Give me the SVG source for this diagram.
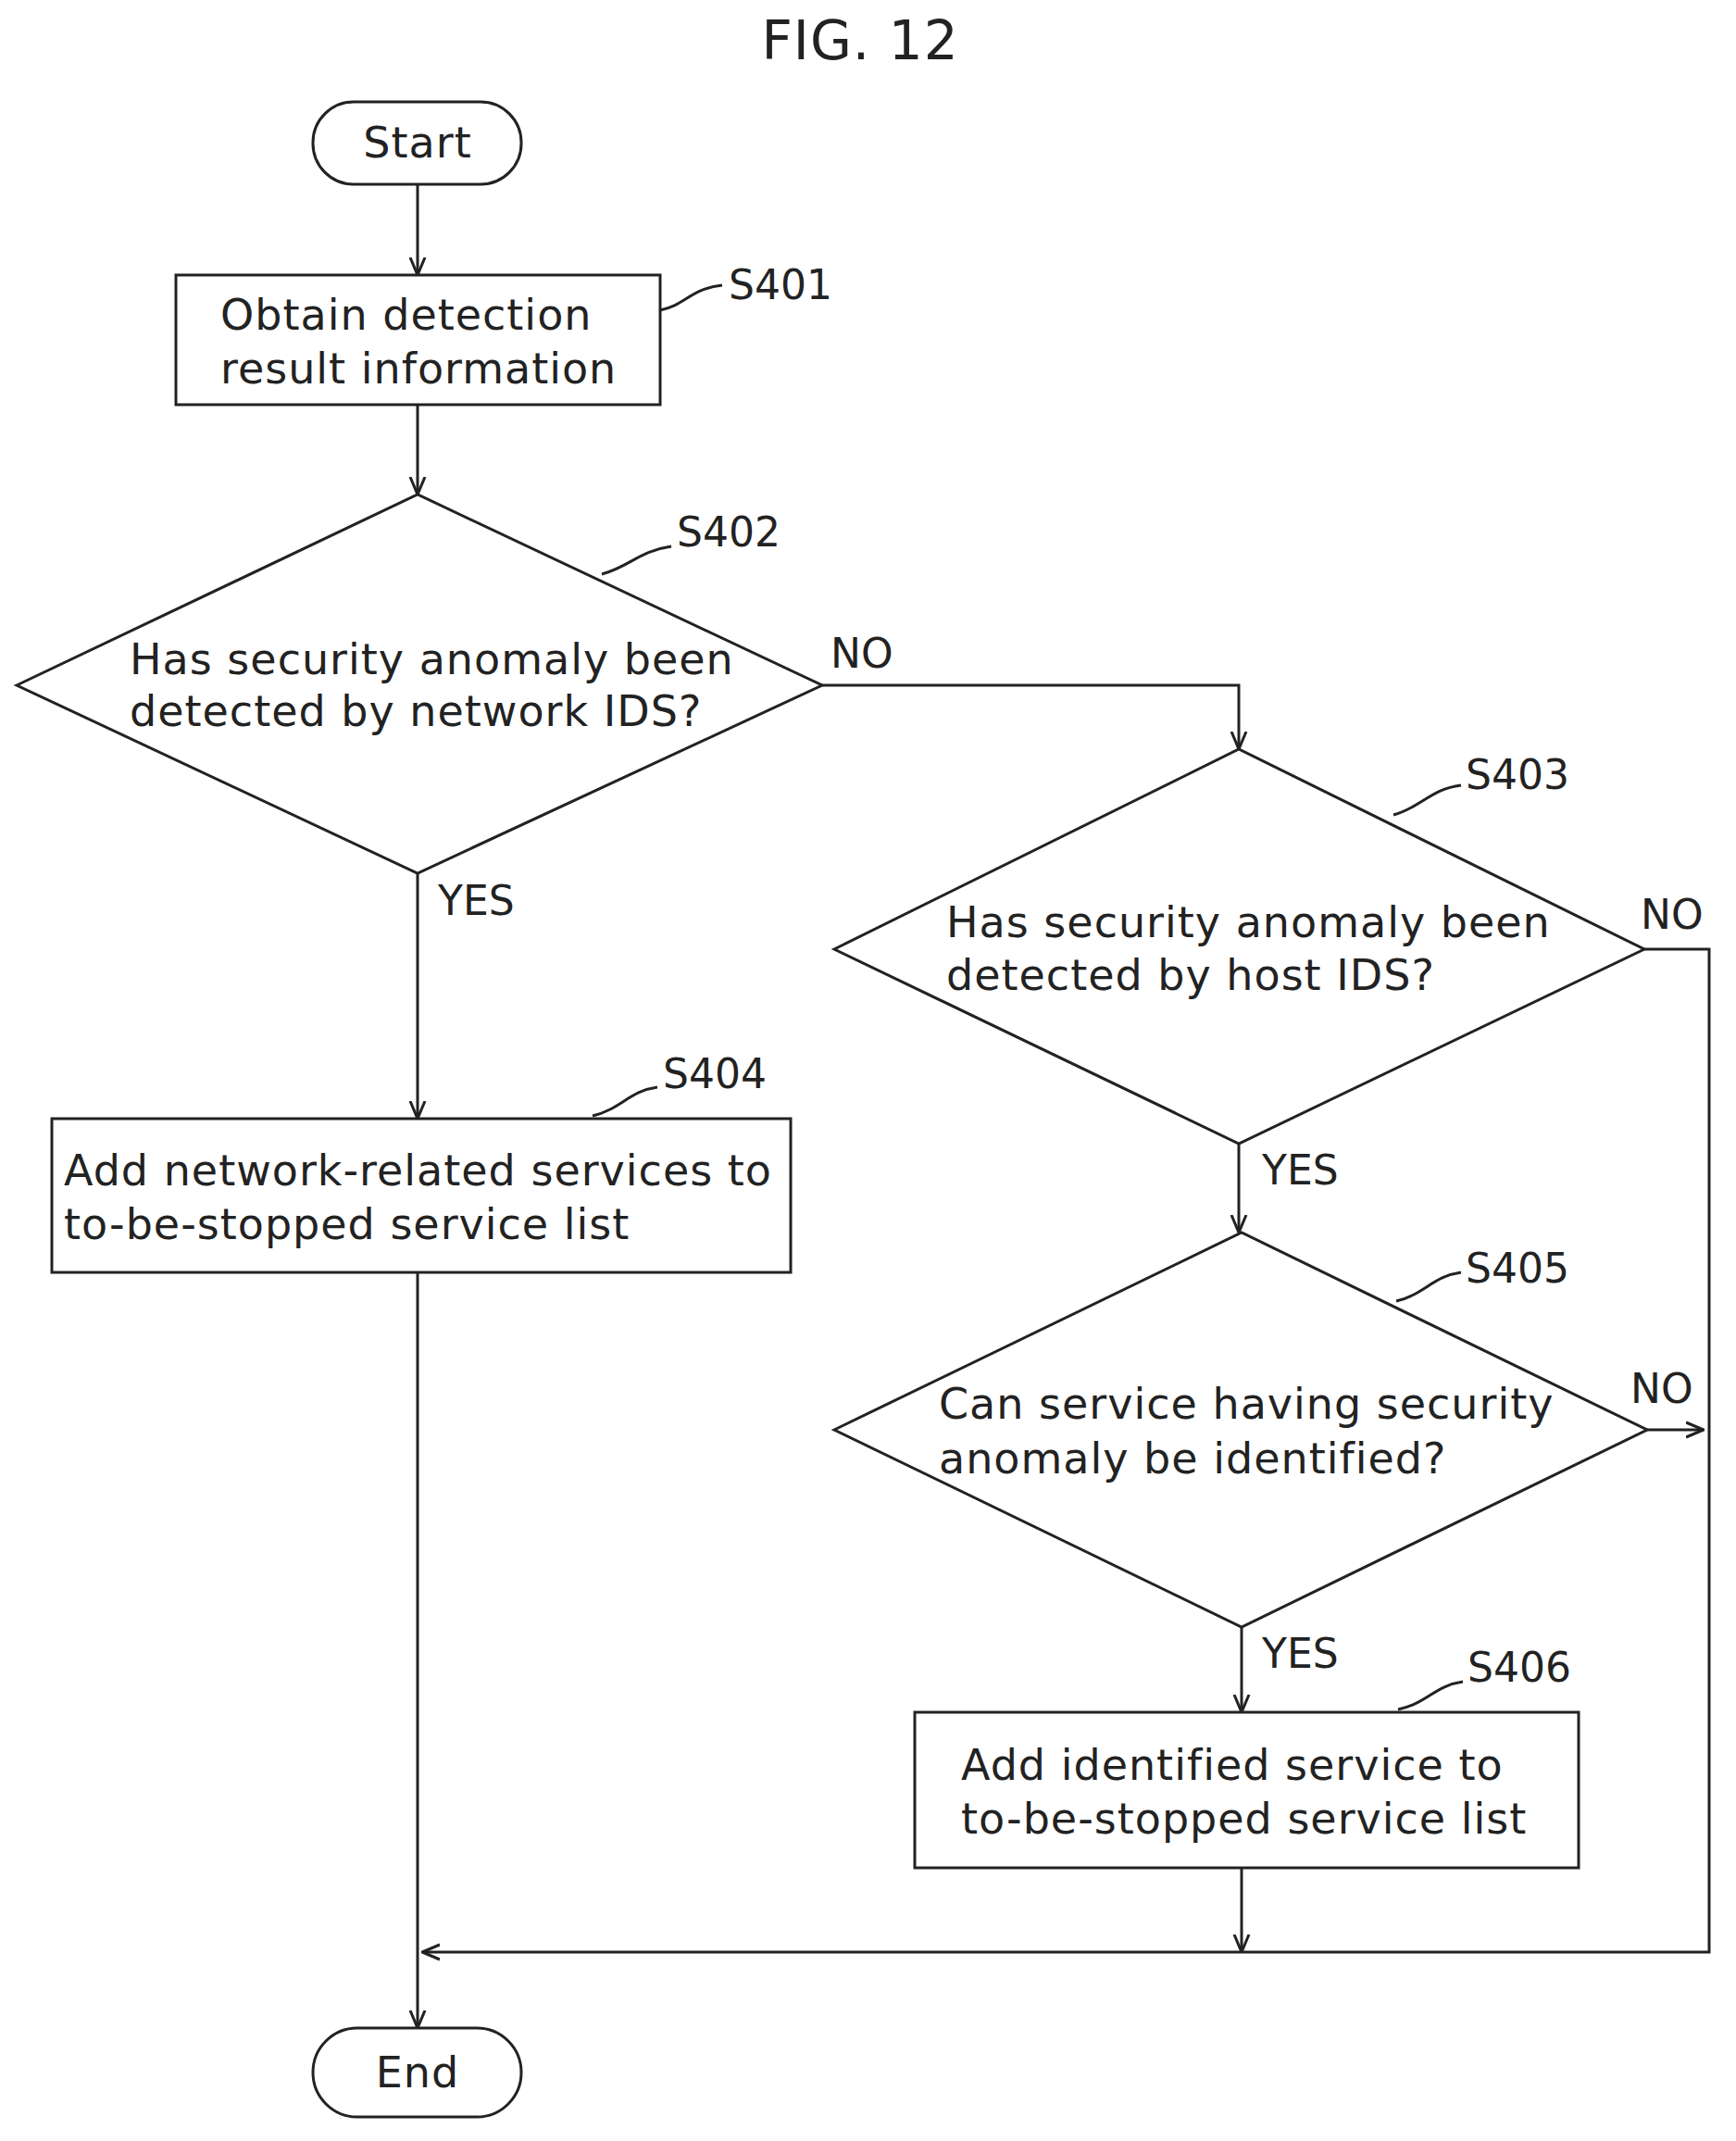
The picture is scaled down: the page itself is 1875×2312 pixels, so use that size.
<svg xmlns="http://www.w3.org/2000/svg" width="1875" height="2312" viewBox="0 0 1875 2312">
<style>
.s{fill:none;stroke:#222;stroke-width:3}
.t{font-family:"DejaVu Sans",sans-serif;font-size:46px;fill:#222;letter-spacing:1px}
.l{font-family:"DejaVu Sans",sans-serif;font-size:44px;fill:#222}
</style>
<defs>
<marker id="a" viewBox="0 0 20 20" refX="19" refY="10" markerWidth="20" markerHeight="20" markerUnits="userSpaceOnUse" orient="auto">
<path d="M0,2 L19,10 L0,18" fill="none" stroke="#222" stroke-width="3"/>
</marker>
</defs>
<rect width="1875" height="2312" fill="#fff"/>
<text x="929" y="64" text-anchor="middle" class="t" style="font-size:58px">FIG. 12</text>
<g id="start"><rect x="338" y="110" width="225" height="89" rx="44" class="s"/><text x="451" y="170" text-anchor="middle" class="t">Start</text></g>
<g id="s401"><rect x="190" y="297" width="523" height="140" class="s"/><text x="238" y="356" class="t">Obtain detection</text><text x="238" y="414" class="t">result information</text>
<path d="M713,335 C740,330 745,312 780,308" class="s" stroke-width="2"/><text x="787" y="323" class="l">S401</text></g>
<g id="s402"><path d="M18,740 L451,534 L888,740 L451,943 Z" class="s"/><text x="140" y="728" class="t">Has security anomaly been</text><text x="140" y="784" class="t">detected by network IDS?</text>
<path d="M650,620 C680,612 690,595 725,590" class="s" stroke-width="2"/><text x="731" y="590" class="l">S402</text></g>
<g id="s403"><path d="M901,1025 L1338,809 L1776,1025 L1338,1235 Z" class="s"/><text x="1022" y="1012" class="t">Has security anomaly been</text><text x="1022" y="1069" class="t">detected by host IDS?</text>
<path d="M1505,880 C1535,872 1545,852 1578,848" class="s" stroke-width="2"/><text x="1583" y="852" class="l">S403</text></g>
<g id="s404"><rect x="56" y="1208" width="798" height="166" class="s"/><text x="69" y="1280" class="t">Add network-related services to</text><text x="69" y="1338" class="t">to-be-stopped service list</text>
<path d="M640,1205 C670,1198 680,1178 710,1174" class="s" stroke-width="2"/><text x="716" y="1175" class="l">S404</text></g>
<g id="s405"><path d="M901,1544 L1341,1331 L1779,1544 L1341,1757 Z" class="s"/><text x="1014" y="1532" class="t">Can service having security</text><text x="1014" y="1591" class="t">anomaly be identified?</text>
<path d="M1508,1405 C1538,1398 1548,1378 1578,1374" class="s" stroke-width="2"/><text x="1583" y="1385" class="l">S405</text></g>
<g id="s406"><rect x="988" y="1849" width="717" height="168" class="s"/><text x="1038" y="1922" class="t">Add identified service to</text><text x="1038" y="1980" class="t">to-be-stopped service list</text>
<path d="M1510,1846 C1540,1840 1550,1820 1580,1816" class="s" stroke-width="2"/><text x="1585" y="1816" class="l">S406</text></g>
<g id="end"><rect x="338" y="2190" width="225" height="96" rx="48" class="s"/><text x="451" y="2254" text-anchor="middle" class="t">End</text></g>
<g id="connectors">
<path d="M451,199 V297" class="s" marker-end="url(#a)"/>
<path d="M451,437 V534" class="s" marker-end="url(#a)"/>
<path d="M888,740 H1338 V809" class="s" marker-end="url(#a)"/>
<path d="M451,943 V1208" class="s" marker-end="url(#a)"/>
<path d="M1338,1235 V1331" class="s" marker-end="url(#a)"/>
<path d="M1341,1757 V1849" class="s" marker-end="url(#a)"/>
<path d="M1341,2017 V2108" class="s" marker-end="url(#a)"/>
<path d="M1779,1544 H1840" class="s" marker-end="url(#a)"/>
<path d="M1776,1025 H1846 V2108 H456" class="s" marker-end="url(#a)"/>
<path d="M451,1374 V2190" class="s" marker-end="url(#a)"/>
<text x="897" y="721" class="l">NO</text>
<text x="473" y="988" class="l">YES</text>
<text x="1772" y="1003" class="l">NO</text>
<text x="1363" y="1279" class="l">YES</text>
<text x="1761" y="1515" class="l">NO</text>
<text x="1363" y="1801" class="l">YES</text>
</g>
</svg>
